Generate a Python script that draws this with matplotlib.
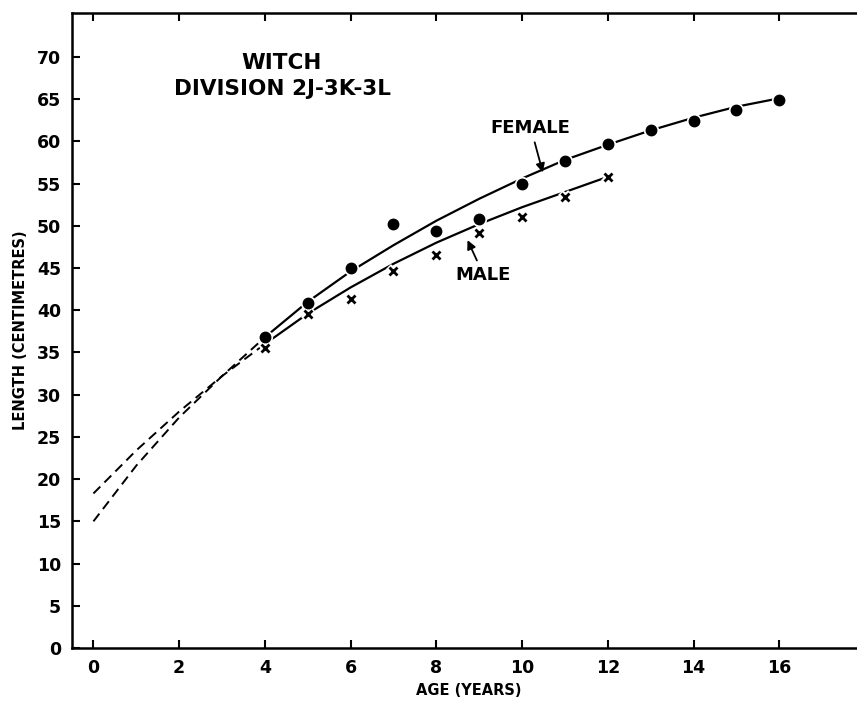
import numpy as np
import matplotlib
matplotlib.use('Agg')
import matplotlib.pyplot as plt

plt.rcParams['font.family'] = ['DejaVu Sans']
plt.rcParams['font.weight'] = 'bold'
plt.rcParams['axes.labelweight'] = 'bold'

# observed mean lengths
edad_hembra = [4, 5, 6, 7, 8, 9, 10, 11, 12, 13, 14, 15, 16]
largo_hembra = [36.8, 40.8, 45.0, 50.2, 49.4, 50.8, 54.9, 57.7, 59.7, 61.3, 62.4, 63.7, 64.9]
edad_macho = [4, 5, 6, 7, 8, 9, 10, 11, 12]
largo_macho = [35.5, 39.5, 41.3, 44.6, 46.6, 49.2, 51.1, 53.4, 55.8]

# fitted growth curves
curva_edad_h = [0, 1, 2, 3, 4, 5, 6, 7, 8, 9, 10, 11, 12, 13, 14, 15, 16]
curva_largo_h = [15.0, 21.6, 27.3, 32.2, 36.8, 41.0, 44.6, 47.7, 50.6, 53.2, 55.6, 57.8, 59.6, 61.3, 62.8, 64.1, 65.1]
curva_edad_m = [0, 1, 2, 3, 4, 5, 6, 7, 8, 9, 10, 11, 12]
curva_largo_m = [18.3, 23.4, 28.0, 32.2, 36.0, 39.6, 42.7, 45.5, 48.0, 50.2, 52.2, 54.0, 55.8]
corte = 4  # index where the dashed extrapolation ends

fig = plt.figure(figsize=(8.57, 7.03), dpi=100)
ax = fig.add_axes([72/857, 55/703, 793/857, 635/703])

lw = 1.6
ax.plot(curva_edad_h[:corte+1], curva_largo_h[:corte+1], color='black', lw=1.4, ls=(0, (5, 3)))
ax.plot(curva_edad_m[:corte+1], curva_largo_m[:corte+1], color='black', lw=1.4, ls=(0, (5, 3)))
ax.plot(curva_edad_h[corte:], curva_largo_h[corte:], color='black', lw=lw)
ax.plot(curva_edad_m[corte:], curva_largo_m[corte:], color='black', lw=lw)

# white halos break the lines around the symbols
ax.plot(edad_hembra, largo_hembra, 'o', ms=8, color='black', mec='white', mew=3, zorder=3)
ax.plot(edad_hembra, largo_hembra, 'o', ms=7.5, color='black', zorder=4)
ax.plot(edad_macho, largo_macho, 'x', ms=7, color='white', mew=5, zorder=3)
ax.plot(edad_macho, largo_macho, 'x', ms=6, color='black', mew=2, zorder=4)

ax.set_xlim(-0.5, 18)
ax.set_ylim(0, 75.2)
ax.set_xticks(range(0, 17, 2))
ax.set_yticks(range(0, 71, 5))
ax.tick_params(direction='in', length=6, width=1.5, labelsize=12.5,
               top=True, right=True, pad=8)
for s in ax.spines.values():
    s.set_linewidth(1.8)

ax.set_xlabel('AGE (YEARS)', fontsize=10.5, labelpad=4)
ax.set_ylabel('LENGTH (CENTIMETRES)', fontsize=10.5, labelpad=6)

ax.text(4.4, 69.3, 'WITCH', ha='center', va='center', fontsize=15.5)
ax.text(4.4, 66.2, 'DIVISION 2J-3K-3L', ha='center', va='center', fontsize=15.5)

ax.annotate('FEMALE', xy=(10.5, 56.0), xytext=(10.2, 61.6), ha='center', va='center',
            fontsize=13, arrowprops=dict(arrowstyle='-|>', color='black', lw=1.3,
                                         connectionstyle='angle3,angleA=-60,angleB=-75'))
ax.annotate('MALE', xy=(8.7, 48.6), xytext=(9.1, 44.2), ha='center', va='center',
            fontsize=13, arrowprops=dict(arrowstyle='-|>', color='black', lw=1.3))

fig.savefig('out.png', dpi=100)
